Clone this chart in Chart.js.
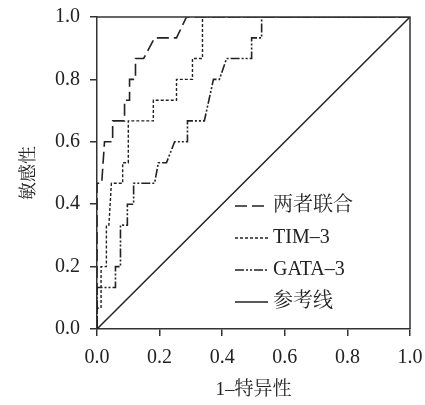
<!DOCTYPE html>
<html><head><meta charset="utf-8">
<script src="https://cdn.jsdelivr.net/npm/chart.js@4"></script>
<style>html,body{margin:0;padding:0;background:#fff}#wrap{width:425px;height:405px}</style>
</head><body><div id="wrap"><canvas id="c" width="425" height="405"></canvas></div>
<script>
// ---- data ----
const seriesNames = ['两者联合', 'TIM–3', 'GATA–3', '参考线'];
const combinedX = [0, 0, 0.015, 0.024, 0.05, 0.05, 0.088, 0.088, 0.104, 0.104, 0.123, 0.123, 0.149, 0.184, 0.254, 0.286, 1];
const combinedY = [0, 0.467, 0.467, 0.6, 0.6, 0.667, 0.667, 0.733, 0.733, 0.8, 0.8, 0.867, 0.867, 0.933, 0.933, 1, 1];
const timX = [0, 0, 0.013, 0.013, 0.03, 0.03, 0.038, 0.046, 0.082, 0.082, 0.1, 0.1, 0.18, 0.18, 0.254, 0.254, 0.305, 0.305, 0.337, 0.337, 1];
const timY = [0, 0.067, 0.067, 0.2, 0.2, 0.333, 0.333, 0.467, 0.467, 0.533, 0.533, 0.667, 0.667, 0.733, 0.733, 0.8, 0.8, 0.867, 0.867, 1, 1];
const gataX = [0, 0, 0.059, 0.059, 0.075, 0.075, 0.097, 0.097, 0.117, 0.117, 0.184, 0.196, 0.222, 0.248, 0.289, 0.289, 0.343, 0.372, 0.391, 0.414, 0.494, 0.494, 0.526, 0.526, 1];
const gataY = [0, 0.133, 0.133, 0.2, 0.2, 0.333, 0.333, 0.4, 0.4, 0.467, 0.467, 0.533, 0.533, 0.6, 0.6, 0.667, 0.667, 0.8, 0.8, 0.867, 0.867, 0.933, 0.933, 1, 1];
const refX = [0, 1];
const refY = [0, 1];
const tickValues = [0, 0.2, 0.4, 0.6, 0.8, 1.0];
const xTitle = '1–特异性';
const yTitle = '敏感性';

const FONT = "'Liberation Serif', 'Noto Serif CJK SC', 'Noto Sans CJK SC', serif";
const INK = '#222';
const AXIS = '#333';

const pts = (xs, ys) => xs.map((x, i) => ({ x, y: ys[i] }));
const styles = [
  { dash: [12, 5], width: 1.6 },
  { dash: [3, 2], width: 1.4 },
  { dash: [9, 2, 2, 2, 2, 2], width: 1.6 },
  { dash: [], width: 1.5 }
];
const seriesData = [pts(combinedX, combinedY), pts(timX, timY), pts(gataX, gataY), pts(refX, refY)];

const datasets = seriesData.map((d, i) => ({
  label: seriesNames[i],
  data: d,
  showLine: true,
  borderColor: INK,
  borderWidth: styles[i].width,
  borderDash: styles[i].dash,
  pointRadius: 0,
  fill: false,
  tension: 0
}));

const boxPlugin = {
  id: 'box',
  afterDatasetsDraw(chart) {
    const a = chart.chartArea, ctx = chart.ctx;
    ctx.save();
    ctx.strokeStyle = AXIS; ctx.lineWidth = 1.5; ctx.setLineDash([]);
    ctx.beginPath();
    ctx.moveTo(a.left, a.top); ctx.lineTo(a.right, a.top); ctx.lineTo(a.right, a.bottom);
    ctx.stroke();
    ctx.restore();
  }
};

const legendPlugin = {
  id: 'inlegend',
  afterDraw(chart) {
    const ctx = chart.ctx;
    const rows = [206, 238, 270, 302];
    ctx.save();
    chart.data.datasets.forEach((ds, i) => {
      const y = rows[i];
      ctx.strokeStyle = INK; ctx.lineWidth = ds.borderWidth;
      ctx.setLineDash(ds.borderDash);
      ctx.beginPath(); ctx.moveTo(235, y); ctx.lineTo(268, y); ctx.stroke();
      ctx.setLineDash([]);
      ctx.fillStyle = INK;
      ctx.font = "20px " + FONT;
      ctx.textBaseline = 'middle';
      ctx.fillText(ds.label, 273, y);
    });
    ctx.restore();
  }
};

const axisCommon = (titleText, titleSize) => ({
  type: 'linear', min: 0, max: 1,
  afterBuildTicks: s => { s.ticks = tickValues.map(v => ({ value: v })); },
  ticks: {
    callback: v => Number(v).toFixed(1),
    font: { family: FONT, size: 20 }, color: INK, padding: 10,
    autoSkip: false, maxRotation: 0
  },
  grid: { drawOnChartArea: false, drawTicks: true, tickLength: 7, color: AXIS, lineWidth: 1.5 },
  border: { display: true, color: AXIS, width: 1.5 },
  title: { display: true, text: titleText, font: { family: FONT, size: titleSize }, color: INK }
});

const xs = axisCommon(xTitle, 19);
xs.afterFit = s => { s.height = 76; s.paddingLeft = 0; s.paddingRight = 0; };
xs.title.padding = { top: 4, bottom: 4 };
const ys = axisCommon(yTitle, 18);
ys.afterFit = s => { s.width = 97; s.paddingTop = 0; s.paddingBottom = 0; };
ys.title.padding = { top: 18, bottom: 0 };

new Chart(document.getElementById('c'), {
  type: 'scatter',
  data: { datasets },
  options: {
    responsive: false, devicePixelRatio: 1, animation: false,
    layout: { padding: { top: 17, right: 15, left: 0, bottom: 0 } },
    plugins: { legend: { display: false }, tooltip: { enabled: false } },
    scales: { x: xs, y: ys }
  },
  plugins: [boxPlugin, legendPlugin]
});
</script></body></html>
